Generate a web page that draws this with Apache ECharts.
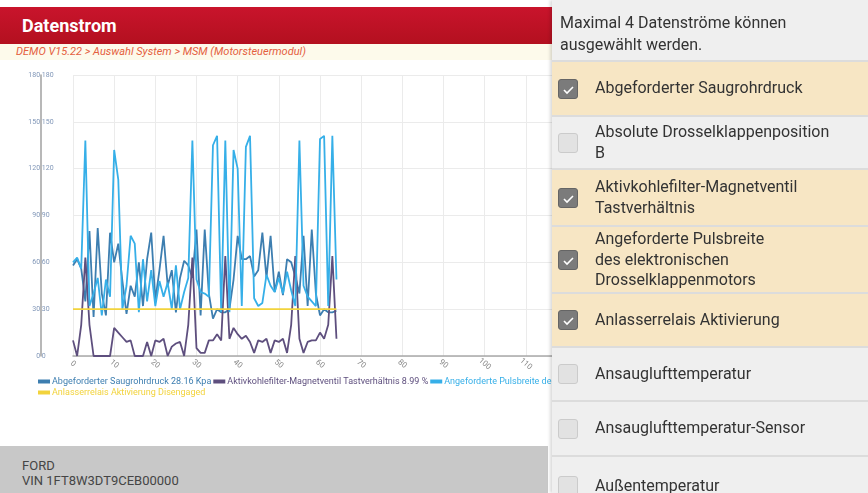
<!DOCTYPE html>
<html>
<head>
<meta charset="utf-8">
<title>Datenstrom</title>
<script src="https://cdn.jsdelivr.net/npm/echarts@6/dist/echarts.min.js"></script>
<style>
    html,body{margin:0;padding:0;width:868px;height:493px;overflow:hidden;background:#fff;font-family:Roboto,"Noto Sans",sans-serif;}
    .head{position:absolute;left:0;top:7px;width:552px;height:37px;background:linear-gradient(#c9142c,#b3101f);}
    .head span{position:absolute;left:22px;top:8px;color:#fff;font-size:18px;font-weight:bold;}
    .crumb{position:absolute;left:0;top:44px;width:552px;height:16px;background:#fdfaeb;}
    .crumb span{position:absolute;left:16px;top:1px;color:#e4603e;font-size:11px;font-style:italic;}
    #main{position:absolute;left:0;top:60px;width:900px;height:386px;}
    .foot{position:absolute;left:0;top:446px;width:548px;height:47px;background:#c8c8c8;}
    .foot div{position:absolute;left:22px;font-size:13px;color:#454545;line-height:15px;}
    .side{position:absolute;left:552px;top:0;width:316px;height:493px;background:#efefef;box-shadow:-2px 0 3px rgba(0,0,0,0.15);z-index:5;}
    .side .tip{position:absolute;left:8px;top:12px;font-size:16px;color:#333;line-height:22px;}
    .row{position:absolute;left:0;width:316px;border-top:2px solid #dcdcdc;}
    .row.on{background:#f7e6c4;}
    .row .txt{position:absolute;left:43px;font-size:16px;color:#333;line-height:20.5px;}
    .box{position:absolute;left:6px;width:20px;height:20px;border-radius:3px;box-sizing:border-box;}
    .row.on .box{background:#7b7b7b;border:1px solid #656565;}
    .row.off .box{background:#e2e2e2;border:1px solid #cbcbcb;}
    .box svg{position:absolute;left:3px;top:4px;}
</style>
</head>
<body>
<div class="head"><span>Datenstrom</span></div>
<div class="crumb"><span>DEMO V15.22 &gt; Auswahl System &gt; MSM (Motorsteuermodul)</span></div>
<div id="main"></div>
<div class="foot"><div style="top:12px">FORD</div><div style="top:27px">VIN 1FT8W3DT9CEB00000</div></div>
<div class="side" id="side">
    <div class="tip">Maximal 4 Datenströme können<br>ausgewählt werden.</div>
</div>
<script>
//X轴 点序号
var xIndex = [];
for (var k = 0; k < 65; k++) { xIndex.push(k); }

//数据
var saugrohrdruck = [58,62,56,35,80,25,82,40,26,79,60,72,48,27,45,38,60,32,62,79,36,55,77,45,55,28,50,61,58,50,
    81,26,81,40,24,30,28,28,30,49,77,62,62,64,51,55,79,50,77,41,54,39,62,60,51,40,77,32,81,40,26,30,28,28,29];
var aktivkohle = [10,0,20,63,20,0,0,0,0,0,18,15,12,9,10,0,0,0,9,0,10,9,11,0,6,8,9,0,20,63,
    5,2,2,10,10,14,10,64,11,18,14,11,13,9,2,10,9,11,2,10,9,11,2,20,64,11,2,9,10,10,15,11,20,64,11];
var pulsbreite = [60,63,56,138,32,40,50,26,49,38,132,113,30,45,77,72,28,62,35,55,32,48,38,47,30,58,30,41,50,138,
    49,41,40,38,135,141,28,138,28,132,120,32,134,141,37,32,34,52,45,41,50,40,54,42,32,138,45,38,35,32,139,141,32,141,49];
var anlasser = [30,30,30,30,30,30,30,30,30,30,30,30,30,30,30,30,30,30,30,30,30,30,30,30,30,30,30,30,30,30,
    30,30,30,30,30,30,30,30,30,30,30,30,30,30,30,30,30,30,30,30,30,30,30,30,30,30,30,30,30,30,30,30,30,30,30];

//图例名称 和 当前值
var names = ['Abgeforderter Saugrohrdruck', 'Aktivkohlefilter-Magnetventil Tastverhältnis',
    'Angeforderte Pulsbreite des elektronischen Drosselklappenmotors', 'Anlasserrelais Aktivierung'];
var current = ['28.16 Kpa', '8.99 %', '', 'Disengaged'];
var colors = ['#3d7eb0', '#5e4f7e', '#36afe8', '#f2d33c'];
var yTicks = [0, 30, 60, 90, 120, 150, 180];
var xTicks = [0, 10, 20, 30, 40, 50, 60, 70, 80, 90, 100, 110, 120];

//右侧列表
var items = [
    {text: 'Abgeforderter Saugrohrdruck', on: true, top: 60, h: 55},
    {text: 'Absolute Drosselklappenposition<br>B', on: false, top: 115, h: 53},
    {text: 'Aktivkohlefilter-Magnetventil<br>Tastverhältnis', on: true, top: 168, h: 57},
    {text: 'Angeforderte Pulsbreite<br>des elektronischen<br>Drosselklappenmotors', on: true, top: 225, h: 67},
    {text: 'Anlasserrelais Aktivierung', on: true, top: 292, h: 54},
    {text: 'Ansauglufttemperatur', on: false, top: 346, h: 54},
    {text: 'Ansauglufttemperatur-Sensor', on: false, top: 400, h: 55},
    {text: 'Außentemperatur', on: false, top: 455, h: 60}
];

function pairs(arr){
    var out = [];
    for (var i = 0; i < arr.length; i++) { out.push([xIndex[i], arr[i]]); }
    return out;
}

function buildList(){
    var side = document.getElementById('side');
    for (var i = 0; i < items.length; i++) {
        var it = items[i];
        var lines = it.text.split('<br>').length;
        var row = document.createElement('div');
        row.className = 'row ' + (it.on ? 'on' : 'off');
        row.style.top = it.top + 'px';
        row.style.height = it.h + 'px';
        var bt = Math.round((it.h - 2) / 2 - 10);
        var tt = Math.round((it.h - 2) / 2 - lines * 10.25);
        var check = it.on ? '<svg width="13" height="11"><polyline points="2,6 5,9 11,3" fill="none" stroke="#fff" stroke-width="1.6"/></svg>' : '';
        row.innerHTML = '<div class="box" style="top:' + bt + 'px">' + check + '</div>' +
            '<div class="txt" style="top:' + tt + 'px">' + it.text + '</div>';
        side.appendChild(row);
    }
}
buildList();

var seriesData = [saugrohrdruck, aktivkohle, pulsbreite, anlasser];
var sers = [];
var legendItems = [];
for (var s = 0; s < names.length; s++) {
    sers.push({
        name: names[s],
        type: 'line',
        symbol: 'none',
        lineStyle: {width: 1.8, color: colors[s]},
        itemStyle: {color: colors[s]},
        data: pairs(seriesData[s])
    });
    legendItems.push({name: names[s], textStyle: {color: colors[s]}});
}

var myChart = echarts.init(document.getElementById('main'));
var option = {
    animation: false,
    textStyle: {fontFamily: 'Roboto'},
    grid: {left: 73, top: 15, width: 494, height: 281},
    legend: {
        left: 38,
        top: 317,
        width: 760,
        padding: 0,
        itemWidth: 12,
        itemHeight: 4,
        itemGap: 2,
        icon: 'rect',
        textStyle: {fontSize: 9, padding: [0, 0, 0, -3]},
        formatter: function(name){
            var i = names.indexOf(name);
            return current[i] ? name + ' ' + current[i] : name;
        },
        data: legendItems
    },
    xAxis: {
        type: 'value',
        min: xTicks[0],
        max: xTicks[xTicks.length - 1],
        interval: 10,
        axisLine: {onZero: false, lineStyle: {color: '#a9a9a9', width: 1.5}},
        axisTick: {show: false},
        splitLine: {lineStyle: {color: '#ebebeb'}},
        axisLabel: {rotate: -40, align: 'center', fontSize: 8, color: '#8a8a8a', margin: 8}
    },
    yAxis: {
        type: 'value',
        min: yTicks[0],
        max: yTicks[yTicks.length - 1],
        interval: 30,
        offset: 32,
        axisLine: {show: true, onZero: false, lineStyle: {color: '#a0a0a0', width: 1.5}},
        axisTick: {show: false},
        splitLine: {lineStyle: {color: '#ebebeb'}},
        axisLabel: {
            fontSize: 7,
            color: '#8197b8',
            align: 'center',
            margin: 0,
            formatter: function(v){ return v + ' ' + v; }
        }
    },
    series: sers
};
myChart.setOption(option);
</script>
</body>
</html>
